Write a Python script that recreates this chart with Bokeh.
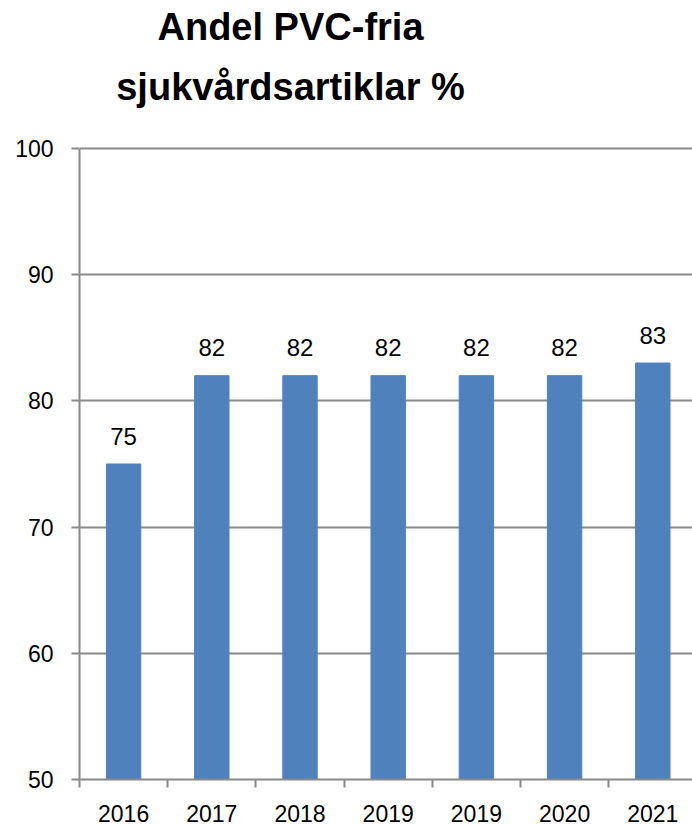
from bokeh.plotting import figure
from bokeh.models import ColumnDataSource, FixedTicker, Label, Range1d
from bokeh.embed import file_html
from bokeh.resources import INLINE
from bokeh.core.properties import value

categories = ["2016", "2017", "2018", "2019", "2019", "2020", "2021"]
values = [75, 82, 82, 82, 82, 82, 83]
y_ticks = [50, 60, 70, 80, 90, 100]
title_lines = ["Andel PVC-fria", "sjukvårdsartiklar %"]

FONT = "Liberation Sans"
GRAY = "#898989"
BAR = "#4F81BD"

W, H = 692, 825
LEFT = 79          # frame left edge (px)
AXIS_H = 46        # space below the frame for the category axis
PX_PER_UNIT = 12.62
FRAME_H = H - AXIS_H
y_top = y_ticks[0] + FRAME_H / PX_PER_UNIT   # headroom above 100 holds the title
CAT_W = 88.2
x_end = (W - LEFT) / CAT_W

xs = [i + 0.5 for i in range(len(categories))]
bounds = list(range(len(categories) + 1))
src = ColumnDataSource(dict(x=xs, top=values, label=[str(v) for v in values]))

p = figure(width=W, height=H, output_backend="svg", toolbar_location=None, title=None,
           x_range=Range1d(0, x_end), y_range=Range1d(y_ticks[0], y_top),
           min_border_left=LEFT, min_border_right=0, min_border_top=0,
           min_border_bottom=AXIS_H)
p.outline_line_color = None
p.background_fill_color = "white"
p.border_fill_color = "white"

p.vbar(x="x", top="top", bottom=y_ticks[0], width=0.39, source=src,
       fill_color=BAR, line_color=BAR)

p.text(x="x", y="top", text="label", source=src, text_align="center",
       text_baseline="alphabetic", y_offset=-28, text_font=value(FONT),
       text_font_size="24px", text_color="black")

# x axis: labels under the bars, small ticks between categories
xa = p.xaxis[0]
xa.ticker = FixedTicker(ticks=xs, minor_ticks=bounds)
xa.major_label_overrides = {x: c for x, c in zip(xs, categories)}
xa.major_tick_line_color = None
xa.major_tick_out = 8
xa.major_tick_in = 0
xa.minor_tick_out = 8
xa.minor_tick_in = 0
xa.minor_tick_line_color = GRAY
xa.minor_tick_line_width = 2
xa.axis_line_color = GRAY
xa.axis_line_width = 2
xa.major_label_standoff = 17
xa.major_label_text_font = FONT
xa.major_label_text_font_size = "23px"
xa.major_label_text_color = "black"

# y axis
ya = p.yaxis[0]
ya.ticker = FixedTicker(ticks=y_ticks, minor_ticks=[])
ya.bounds = (y_ticks[0], y_ticks[-1])
ya.major_tick_out = 8
ya.major_tick_in = 0
ya.major_tick_line_color = GRAY
ya.major_tick_line_width = 2
ya.minor_tick_line_color = None
ya.axis_line_color = GRAY
ya.axis_line_width = 2
ya.major_label_standoff = 18
ya.major_label_text_font = FONT
ya.major_label_text_font_size = "23px"
ya.major_label_text_color = "black"

p.xgrid.visible = False
p.ygrid.ticker = FixedTicker(ticks=y_ticks, minor_ticks=[])
p.ygrid.grid_line_color = GRAY
p.ygrid.grid_line_width = 2

# two-line centred title, placed in the headroom above the value axis
for txt, yy in zip(title_lines, [FRAME_H - 26, FRAME_H - 86]):
    p.add_layout(Label(x=211, y=yy, x_units="screen", y_units="screen", text=txt,
                       text_align="center", text_baseline="alphabetic",
                       text_font=FONT, text_font_style="bold",
                       text_font_size="38px", text_color="black"))

open("out.html", "w").write(file_html(p, INLINE))
